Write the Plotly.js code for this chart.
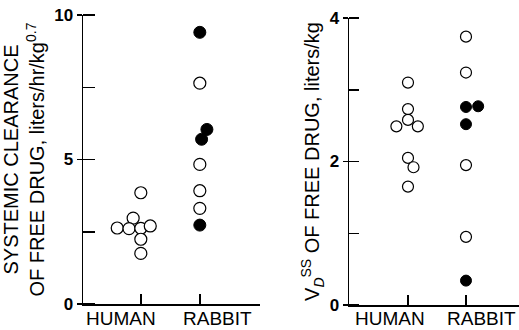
<!DOCTYPE html>
<html>
<head>
<meta charset="utf-8">
<script src="https://cdn.plot.ly/plotly-3.0.1.min.js"></script>
<style>html,body{margin:0;padding:0;background:#fff;}#chart{width:519px;height:330px;}</style>
</head>
<body>
<div id="chart"></div>
<script>
// Categories
const categories = ['HUMAN', 'RABBIT'];

// Left panel: systemic clearance of free drug (liters/hr/kg^0.7)
const clHumanOpen = [3.85, 2.97, 2.63, 2.61, 2.62, 2.70, 2.24, 1.75];
const clHumanOpenJitter = [0, -0.13, -0.40, -0.20, 0, 0.16, 0, 0];
const clRabbitOpen = [7.64, 4.83, 3.92, 3.31];
const clRabbitOpenJitter = [0, 0, 0, 0];
const clRabbitFilled = [9.40, 6.04, 5.70, 2.73];
const clRabbitFilledJitter = [0, 0.12, 0.03, 0];

// Right panel: Vd(ss) of free drug (liters/kg)
const vdHumanOpen = [3.10, 2.73, 2.49, 2.58, 2.49, 2.05, 1.92, 1.65];
const vdHumanOpenJitter = [0, 0, -0.20, 0, 0.17, 0, 0.095, 0];
const vdRabbitOpen = [3.74, 3.24, 1.95, 0.95];
const vdRabbitOpenJitter = [0, 0, 0, 0];
const vdRabbitFilled = [2.76, 2.77, 2.52, 0.34];
const vdRabbitFilledJitter = [0, 0.21, 0, 0];

// Tick labels
const clTickVals = [0, 5, 10];
const clTickText = ['0', '5', '10'];
const vdTickVals = [0, 2, 4];
const vdTickText = ['0', '2', '4'];

function xs(catIndex, jitter) { return jitter.map(j => catIndex + j); }

const FONT = 'Liberation Sans, Arial, Helvetica, sans-serif';
const openMarker = (size) => ({symbol: 'circle', size: size, color: '#ffffff', line: {color: '#000', width: 1.2}});
const filledMarker = (size) => ({symbol: 'circle', size: size, color: '#000000', line: {color: '#000', width: 1}});

const traces = [
  {x: xs(0, clHumanOpenJitter), y: clHumanOpen, mode: 'markers', marker: openMarker(12), xaxis: 'x', yaxis: 'y', hoverinfo: 'y'},
  {x: xs(1, clRabbitOpenJitter), y: clRabbitOpen, mode: 'markers', marker: openMarker(12), xaxis: 'x', yaxis: 'y', hoverinfo: 'y'},
  {x: xs(1, clRabbitFilledJitter), y: clRabbitFilled, mode: 'markers', marker: filledMarker(12), xaxis: 'x', yaxis: 'y', hoverinfo: 'y'},
  {x: xs(0, vdHumanOpenJitter), y: vdHumanOpen, mode: 'markers', marker: openMarker(11), xaxis: 'x2', yaxis: 'y2', hoverinfo: 'y'},
  {x: xs(1, vdRabbitOpenJitter), y: vdRabbitOpen, mode: 'markers', marker: openMarker(11), xaxis: 'x2', yaxis: 'y2', hoverinfo: 'y'},
  {x: xs(1, vdRabbitFilledJitter), y: vdRabbitFilled, mode: 'markers', marker: filledMarker(11), xaxis: 'x2', yaxis: 'y2', hoverinfo: 'y'}
];

const W = 519, H = 330;
const axBase = {showgrid: false, zeroline: false, showline: true, linecolor: '#000', linewidth: 1.5,
  tickcolor: '#000', tickwidth: 1.5, fixedrange: true};
const tickFont = {family: FONT, size: 17, color: '#000', weight: 'bold'};
const titleFont = {family: FONT, size: 20, color: '#000'};
const catFont = {family: FONT, size: 19, color: '#000'};
const labelY = (H - 318) / H;

const layout = {
  width: W, height: H,
  margin: {l: 0, r: 0, t: 0, b: 0},
  paper_bgcolor: '#fff', plot_bgcolor: 'rgba(0,0,0,0)',
  showlegend: false,
  font: {family: FONT, color: '#000'},
  xaxis: Object.assign({}, axBase, {domain: [83/W, 260/W], range: [-0.98, 2.02], anchor: 'y',
    tickmode: 'array', tickvals: [0, 1], ticks: 'inside', ticklen: 10, showticklabels: false}),
  yaxis: Object.assign({}, axBase, {domain: [(H-304)/H, (H-15)/H], range: [0, 10], anchor: 'x',
    tickmode: 'array', tickvals: clTickVals, ticktext: clTickText, ticks: 'outside', ticklen: 5,
    minor: {dtick: 2.5, tick0: 0, ticks: 'inside', ticklen: 12, tickwidth: 1.5, tickcolor: '#000', showgrid: false},
    tickfont: tickFont,
    title: {text: 'SYSTEMIC CLEARANCE<br>OF FREE DRUG, liters/hr/kg<sup>0.7</sup>', font: titleFont, standoff: 4}}),
  xaxis2: Object.assign({}, axBase, {domain: [349/W, 1], range: [-1.017, 1.914], anchor: 'y2',
    tickmode: 'array', tickvals: [0, 1], ticks: 'inside', ticklen: 10, showticklabels: false}),
  yaxis2: Object.assign({}, axBase, {domain: [(H-305)/H, (H-18)/H], range: [0, 4], anchor: 'x2',
    tickmode: 'array', tickvals: vdTickVals, ticktext: vdTickText, ticks: 'outside', ticklen: 5,
    minor: {dtick: 1, tick0: 0, ticks: 'inside', ticklen: 10, tickwidth: 1.5, tickcolor: '#000', showgrid: false},
    tickfont: tickFont,
    title: {text: 'V<sub><i>D</i></sub><sup>SS</sup> OF FREE DRUG, liters/kg', font: titleFont, standoff: 4}}),
  annotations: [
    {xref: 'x', yref: 'paper', x: -0.34, y: labelY, yanchor: 'middle', text: categories[0], showarrow: false, font: catFont},
    {xref: 'x', yref: 'paper', x: 1.30, y: labelY, yanchor: 'middle', text: categories[1], showarrow: false, font: catFont},
    {xref: 'x2', yref: 'paper', x: -0.31, y: labelY, yanchor: 'middle', text: categories[0], showarrow: false, font: catFont},
    {xref: 'x2', yref: 'paper', x: 1.26, y: labelY, yanchor: 'middle', text: categories[1], showarrow: false, font: catFont}
  ]
};

Plotly.newPlot('chart', traces, layout, {displayModeBar: false, staticPlot: true});
</script>
</body>
</html>
